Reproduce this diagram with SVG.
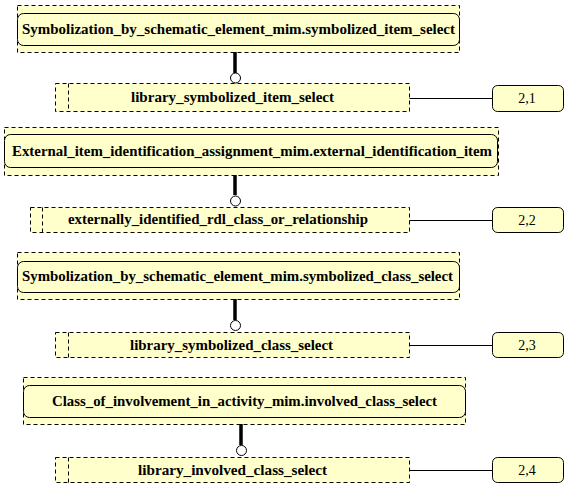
<svg xmlns="http://www.w3.org/2000/svg" width="571" height="491" viewBox="0 0 571 491">
  <style>
    .frame { fill: #ffffcc; stroke: #000; stroke-width: 1; stroke-dasharray: 4 3; }
    .entity { fill: #ffffcc; stroke: #000; stroke-width: 1; }
    .sep { fill: none; stroke: #000; stroke-width: 1; stroke-dasharray: 4 3; }
    .ref { fill: #ffffcc; stroke: #000; stroke-width: 1; }
    .lbl { font-family: "Liberation Serif", "Times New Roman", serif; font-weight: bold; font-size: 14px; fill: #000; }
    .num { font-family: "Liberation Serif", "Times New Roman", serif; font-size: 14px; fill: #000; text-anchor: middle; }
    .stem { stroke: #000; stroke-width: 3.5; fill: none; }
    .ring { fill: #fff; stroke: #000; stroke-width: 1; }
    .link { stroke: #000; stroke-width: 1; fill: none; }
  </style>
  <rect width="571" height="491" fill="#fff"/>

  <!-- supertype select entities -->
  <g id="symbolized_item_select">
    <rect class="frame" x="17.5" y="5.5" width="442" height="47"/>
    <rect class="entity" x="17.5" y="13.5" width="442" height="32" rx="6"/>
    <text class="lbl" x="22" y="34" textLength="433" lengthAdjust="spacingAndGlyphs">Symbolization_by_schematic_element_mim.symbolized_item_select</text>
  </g>
  <g id="external_identification_item">
    <rect class="frame" x="4.5" y="127.5" width="494" height="48"/>
    <rect class="entity" x="4.5" y="134.5" width="493" height="33" rx="6"/>
    <text class="lbl" x="12" y="156" textLength="480" lengthAdjust="spacingAndGlyphs">External_item_identification_assignment_mim.external_identification_item</text>
  </g>
  <g id="symbolized_class_select">
    <rect class="frame" x="17.5" y="252.5" width="442" height="47"/>
    <rect class="entity" x="17.5" y="261.5" width="442" height="31" rx="6"/>
    <text class="lbl" x="22" y="281" textLength="431" lengthAdjust="spacingAndGlyphs">Symbolization_by_schematic_element_mim.symbolized_class_select</text>
  </g>
  <g id="involved_class_select">
    <rect class="frame" x="23.5" y="377.5" width="442" height="47"/>
    <rect class="entity" x="23.5" y="385.5" width="442" height="32" rx="6"/>
    <text class="lbl" x="52" y="406" textLength="385" lengthAdjust="spacingAndGlyphs">Class_of_involvement_in_activity_mim.involved_class_select</text>
  </g>

  <!-- extending select types -->
  <g id="library_symbolized_item_select">
    <rect class="frame" x="55.5" y="83.5" width="354" height="28"/>
    <line class="sep" x1="68.5" y1="83.5" x2="68.5" y2="111.5"/>
    <text class="lbl" x="131" y="102" textLength="203" lengthAdjust="spacingAndGlyphs">library_symbolized_item_select</text>
  </g>
  <g id="externally_identified_rdl_class_or_relationship">
    <rect class="frame" x="30.5" y="207.5" width="379" height="25"/>
    <line class="sep" x1="42.5" y1="207.5" x2="42.5" y2="232.5"/>
    <text class="lbl" x="68" y="224" textLength="300" lengthAdjust="spacingAndGlyphs">externally_identified_rdl_class_or_relationship</text>
  </g>
  <g id="library_symbolized_class_select">
    <rect class="frame" x="55.5" y="332.5" width="354" height="25"/>
    <line class="sep" x1="68.5" y1="332.5" x2="68.5" y2="357.5"/>
    <text class="lbl" x="130" y="350" textLength="203" lengthAdjust="spacingAndGlyphs">library_symbolized_class_select</text>
  </g>
  <g id="library_involved_class_select">
    <rect class="frame" x="55.5" y="457.5" width="354" height="25"/>
    <line class="sep" x1="68.5" y1="457.5" x2="68.5" y2="482.5"/>
    <text class="lbl" x="138" y="475" textLength="189" lengthAdjust="spacingAndGlyphs">library_involved_class_select</text>
  </g>

  <!-- page references -->
  <g id="ref_2_1">
    <rect class="ref" x="492.5" y="85.5" width="71" height="26" rx="5"/>
    <text class="num" x="527" y="103">2,1</text>
  </g>
  <g id="ref_2_2">
    <rect class="ref" x="492.5" y="207.5" width="71" height="25" rx="5"/>
    <text class="num" x="527" y="225">2,2</text>
  </g>
  <g id="ref_2_3">
    <rect class="ref" x="492.5" y="332.5" width="71" height="25" rx="5"/>
    <text class="num" x="527" y="350">2,3</text>
  </g>
  <g id="ref_2_4">
    <rect class="ref" x="492.5" y="457.5" width="71" height="25" rx="5"/>
    <text class="num" x="527" y="475">2,4</text>
  </g>

  <!-- connectors -->
  <g id="connectors">
    <line class="stem" x1="235" y1="52" x2="235" y2="73"/>
    <circle class="ring" cx="235.5" cy="78" r="5"/>
    <line class="link" x1="409.5" y1="98.5" x2="492.5" y2="98.5"/>

    <line class="stem" x1="235" y1="175" x2="235" y2="195"/>
    <circle class="ring" cx="235.5" cy="201" r="5"/>
    <line class="link" x1="409.5" y1="220.5" x2="492.5" y2="220.5"/>

    <line class="stem" x1="235" y1="299" x2="235" y2="320"/>
    <circle class="ring" cx="235.5" cy="325.5" r="5"/>
    <line class="link" x1="409.5" y1="345.5" x2="492.5" y2="345.5"/>

    <line class="stem" x1="241" y1="424" x2="241" y2="445"/>
    <circle class="ring" cx="241.5" cy="450.5" r="5"/>
    <line class="link" x1="409.5" y1="470.5" x2="492.5" y2="470.5"/>
  </g>
</svg>
